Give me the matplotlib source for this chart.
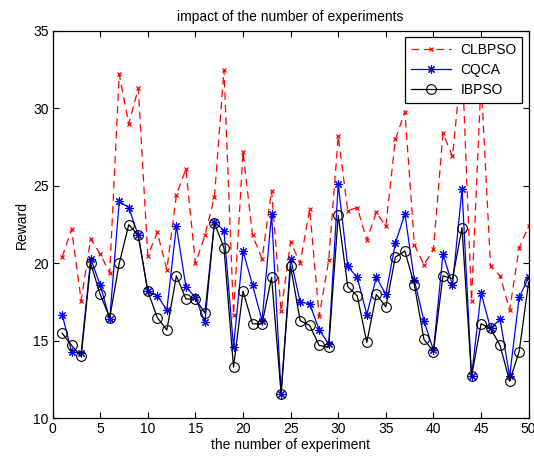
import matplotlib
matplotlib.use("Agg")
import matplotlib.pyplot as plt
import numpy as np

plt.rcParams['font.family'] = ['Liberation Sans', 'DejaVu Sans']

experiments = list(range(1, 51))
clbpso = [20.4, 22.2, 17.6, 21.6, 20.6, 19.4, 32.2, 29.0, 31.3, 20.5,
          22.0, 19.6, 24.4, 26.1, 20.0, 21.8, 24.3, 32.5, 16.7, 27.2,
          21.8, 20.3, 24.7, 16.9, 21.4, 20.0, 23.5, 16.6, 20.2, 28.2,
          23.4, 23.6, 21.5, 23.3, 22.4, 28.0, 29.8, 21.2, 19.9, 20.9,
          28.4, 26.9, 33.2, 17.6, 31.8, 19.8, 19.2, 17.0, 21.0, 22.4]
cqca = [16.7, 14.3, 14.2, 20.3, 18.6, 16.4, 24.0, 23.6, 21.8, 18.2,
        17.9, 17.0, 22.4, 18.5, 17.8, 16.2, 22.7, 22.1, 14.6, 20.8,
        18.6, 16.3, 23.2, 11.6, 20.3, 17.5, 17.4, 15.7, 14.8, 25.1,
        19.8, 19.1, 16.7, 19.1, 18.0, 21.3, 23.2, 18.9, 16.3, 14.4,
        20.6, 18.6, 24.8, 12.7, 18.1, 15.8, 16.4, 12.7, 17.8, 19.1]
ibpso = [15.5, 14.7, 14.0, 20.0, 18.0, 16.5, 20.0, 22.5, 21.8, 18.2,
         16.5, 15.7, 19.2, 17.7, 17.7, 16.8, 22.6, 21.0, 13.3, 18.2,
         16.1, 16.1, 19.1, 11.6, 19.8, 16.3, 16.0, 14.7, 14.6, 23.1,
         18.5, 17.9, 14.9, 18.0, 17.2, 20.4, 20.8, 18.6, 15.1, 14.3,
         19.2, 19.0, 22.3, 12.7, 16.1, 15.8, 14.7, 12.4, 14.3, 18.8]

fig = plt.figure(figsize=(5.34, 4.61), dpi=100)
ax = fig.add_axes([0.0985, 0.0926, 0.8915, 0.8402])

ax.plot(experiments, clbpso, color='red', linestyle=(0, (6, 4)), linewidth=0.9,
        marker='x', markersize=3.5, markeredgewidth=0.9, label='CLBPSO')
ax.plot(experiments, cqca, color='blue', linestyle='-', linewidth=0.9,
        marker=(8, 2, 0), markersize=6, markeredgewidth=0.8, label='CQCA')
ax.plot(experiments, ibpso, color='black', linestyle='-', linewidth=0.9,
        marker='o', markersize=7, markerfacecolor='none', markeredgewidth=0.8,
        label='IBPSO')

ax.set_xlim(0, 50)
ax.set_ylim(10, 35)
ax.set_xticks(np.arange(0, 51, 5))
ax.set_yticks(np.arange(10, 36, 5))
ax.tick_params(direction='in', top=True, right=True, labelsize=10, length=4, width=0.8, pad=3)
for s in ax.spines.values():
    s.set_linewidth(0.9)

ax.set_title('impact of the number of experiments', fontsize=10, pad=7)
ax.set_xlabel('the number of experiment', fontsize=10, labelpad=1)
ax.set_ylabel('Reward', fontsize=10, labelpad=3)

leg = ax.legend(loc='upper right', fontsize=10, frameon=True, fancybox=False,
                edgecolor='black', handlelength=2.9, handletextpad=0.7,
                borderaxespad=0.45, labelspacing=0.45, borderpad=0.4)
leg.get_frame().set_linewidth(0.9)
leg.get_frame().set_alpha(1)

fig.savefig('out.png', dpi=100)
